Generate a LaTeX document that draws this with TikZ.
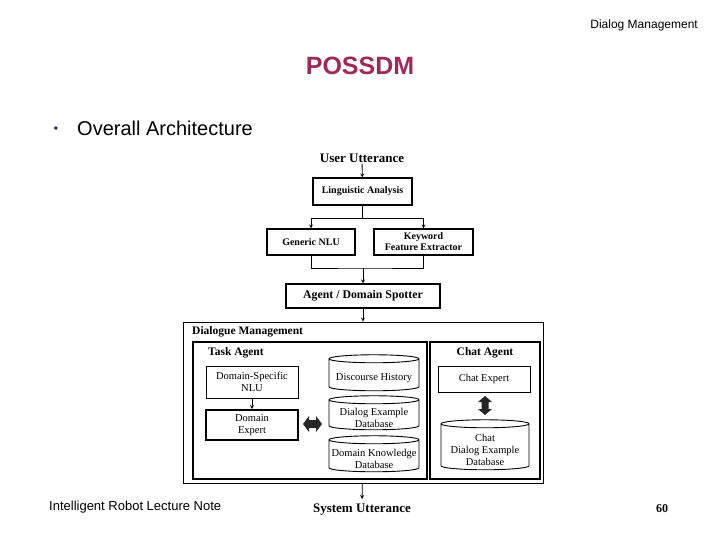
\documentclass[tikz,border=0pt]{standalone}
\usepackage{fontspec}
\setmainfont{Liberation Serif}
\setsansfont{Liberation Sans}
\usetikzlibrary{positioning,shapes.geometric}
\definecolor{titlered}{RGB}{158,42,92}
\definecolor{bulletblue}{RGB}{30,30,110}

\begin{document}
\begin{tikzpicture}[x=1pt, y=-1pt, >=stealth,
box/.style={draw, line width=1.1pt, inner sep=0pt, align=center,
  font=\bfseries\fontsize{10}{11}\selectfont},
plainbox/.style={draw, line width=1pt, inner sep=0pt, align=center,
  font=\fontsize{10.5}{12}\selectfont},
frame/.style={draw, line width=0.9pt, inner sep=0pt},
db/.style={cylinder, draw, line width=0.9pt, shape border rotate=90,
  aspect=0.1, inner sep=0pt, text width=80pt},
dbtext/.style={align=center, inner sep=0pt, yshift=-3,
  font=\fontsize{10.5}{12}\selectfont},
link/.style={fill=black!85},
heading/.style={font=\bfseries\fontsize{11.5}{12}\selectfont, inner sep=0pt}]
\useasboundingbox (0,0) rectangle (720,540);

% slide header and footer
\node [anchor=east, inner sep=0pt, font=\sffamily\fontsize{12}{13}\selectfont] (topic) at (698,25) {Dialog Management};
\node [font=\sffamily\bfseries\fontsize{25}{27}\selectfont, text=titlered] (title) at (360,66) {POSSDM};
\node [text=bulletblue, font=\sffamily\fontsize{12}{12}\selectfont] (bullet) at (56,130) {\textbullet};
\node [anchor=west, font=\sffamily\fontsize{20}{22}\selectfont, inner sep=0pt] (overall) at (77,128) {Overall Architecture};
\node [anchor=west, font=\sffamily\fontsize{13}{14}\selectfont, inner sep=0pt] (lecture) at (49,507) {Intelligent Robot Lecture Note};
\node [font=\bfseries\fontsize{12}{13}\selectfont] (page) at (662,509) {60};

% front end
\node [font=\bfseries\fontsize{13}{14}\selectfont, inner sep=1pt] (user_utt) at (362,158) {User Utterance};
\node [box, minimum width=99, minimum height=27] (ling_an) at (362.5,191.5) {Linguistic Analysis};
\node [box, minimum width=88, minimum height=26] (gen_nlu) at (311,242) {Generic NLU};
\node [box, minimum width=99, minimum height=26] (kw_ext) at (423.5,242) {Keyword\\Feature Extractor};
\node [box, minimum width=154, minimum height=24, font=\bfseries\fontsize{11.8}{13}\selectfont] (spotter) at (363,296) {Agent / Domain Spotter};
\coordinate (split) at (362.5,218);
\coordinate (join) at (363,268);

% dialogue management
\node [frame, minimum width=360, minimum height=161] (dm) at (363,402.5) {};
\node [heading, anchor=west] (dm_label) at (192,332) {Dialogue Management};
\node [frame, line width=1.2pt, minimum width=234, minimum height=137] (task) at (310,410.5) {};
\node [heading, anchor=west] (task_label) at (208,353) {Task Agent};
\node [frame, line width=1.2pt, minimum width=110, minimum height=137] (chat) at (485,410.5) {};
\node [heading] (chat_label) at (485,353) {Chat Agent};

\node [plainbox, minimum width=92, minimum height=32] (ds_nlu) at (252,382) {Domain-Specific\\NLU};
\node [plainbox, line width=1.8pt, minimum width=92, minimum height=30] (dom_exp) at (252,425) {Domain\\Expert};
\node [db, minimum width=90, minimum height=36, label={[dbtext]center:Discourse History}] (disc_hist) at (374,375) {};
\node [db, minimum width=90, minimum height=34, label={[dbtext]center:Dialog Example\\Database}] (dlg_db) at (374,415) {};
\node [db, minimum width=90, minimum height=36, label={[dbtext]center:Domain Knowledge\\Database}] (dk_db) at (374,456) {};
\coordinate (task_link) at (312.5,424);

\node [plainbox, minimum width=92, minimum height=26] (chat_exp) at (484,379) {Chat Expert};
\coordinate (chat_link) at (485,405.5);
\node [db, minimum width=88, minimum height=50, label={[dbtext]center:Chat\\Dialog Example\\Database}] (chat_db) at (485,447) {};

\node [font=\bfseries\fontsize{13}{14}\selectfont, inner sep=5pt] (sys_utt) at (362,510) {System Utterance};

% connectors
\draw [->, line width=0.8pt] (user_utt) -- (ling_an);
\draw [line width=0.8pt] (ling_an) -- (split);
\draw [->, line width=0.8pt] (split) -| (gen_nlu);
\draw [->, line width=0.8pt] (split) -| (kw_ext);
\draw [line width=0.8pt] (gen_nlu) |- (join) -| (kw_ext);
\draw [->, line width=0.8pt] (join) -- (spotter);
\draw [->, line width=0.8pt] (spotter) -- (dm);
\draw [->, line width=0.8pt] (ds_nlu) -- (dom_exp);
\draw [->, line width=0.8pt] (dm) -- (sys_utt);

% block arrows between experts and databases
\fill [link, shift={(task_link)}] (-9.5,0) -- (-3.5,-8) -- (-3.5,-4) -- (3.5,-4) -- (3.5,-8) -- (9.5,0)
  -- (3.5,8) -- (3.5,4) -- (-3.5,4) -- (-3.5,8) -- cycle;
\fill [link, shift={(chat_link)}] (0,-9.5) -- (7,-3.5) -- (3.5,-3.5) -- (3.5,3.5) -- (7,3.5) -- (0,9.5)
  -- (-7,3.5) -- (-3.5,3.5) -- (-3.5,-3.5) -- (-7,-3.5) -- cycle;
\end{tikzpicture}
\end{document}
